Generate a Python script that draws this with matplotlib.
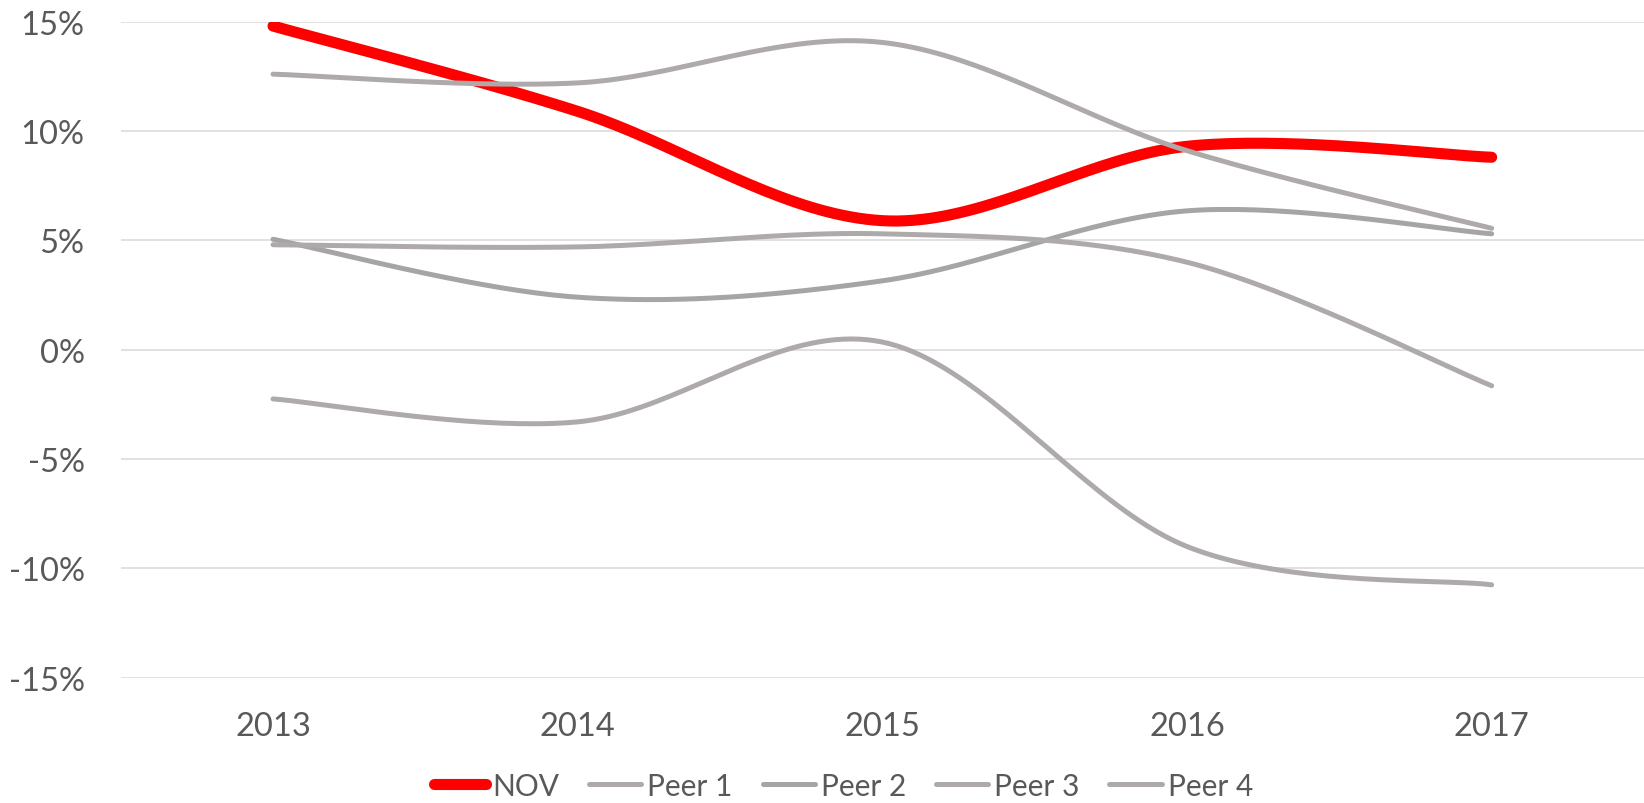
import numpy as np
import matplotlib
matplotlib.use("Agg")
import matplotlib.pyplot as plt
from matplotlib.ticker import FuncFormatter

years = ["2013", "2014", "2015", "2016", "2017"]
series_names = ["NOV", "Peer 1", "Peer 2", "Peer 3", "Peer 4"]
nov = [14.8, 10.9, 5.9, 9.3, 8.8]
peer1 = [12.6, 12.2, 14.05, 9.1, 5.55]
peer2 = [5.05, 2.4, 3.15, 6.35, 5.3]
peer3 = [4.8, 4.7, 5.3, 4.0, -1.65]
peer4 = [-2.25, -3.3, 0.35, -9.0, -10.75]
y_ticks = [-15, -10, -5, 0, 5, 10, 15]

colors = ["#FF0000", "#AEAAAA", "#A5A5A5", "#AEAAAA", "#AEAAAA"]
widths = [8.0, 3.6, 3.6, 3.6, 3.6]
all_series = [nov, peer1, peer2, peer3, peer4]

plt.rcParams['font.family'] = ['Lato', 'DejaVu Sans']


def excel_smooth(x, y, n=40):
    x = np.asarray(x, float)
    y = np.asarray(y, float)
    pts = np.column_stack([x, y])
    m = len(pts)
    out = []
    for i in range(m - 1):
        p0 = pts[i - 1] if i > 0 else pts[i]
        p1 = pts[i]
        p2 = pts[i + 1]
        p3 = pts[i + 2] if i + 2 < m else pts[i + 1]
        c1 = p1 + (p2 - p0) / 6.0
        c2 = p2 - (p3 - p1) / 6.0
        t = np.linspace(0, 1, n)[:, None]
        seg = ((1 - t) ** 3) * p1 + 3 * ((1 - t) ** 2) * t * c1 + 3 * (1 - t) * t ** 2 * c2 + t ** 3 * p2
        if i > 0:
            seg = seg[1:]
        out.append(seg)
    out = np.vstack(out)
    return out[:, 0], out[:, 1]


fig = plt.figure(figsize=(16.44, 8.04), dpi=100)
ax = fig.add_axes([0.0734, 0.1558, 0.9266, 0.8160])

x = np.arange(len(years))
handles = []
for k, (name, vals, c, lw) in enumerate(zip(series_names, all_series, colors, widths)):
    xs, ys = excel_smooth(x, vals)
    ln, = ax.plot(xs, ys, color=c, lw=lw, solid_capstyle='round',
                  solid_joinstyle='round', label=name, zorder=2 + k)
    handles.append(ln)

ax.set_xlim(-0.5, len(years) - 0.5)
ax.set_ylim(-15, 15)
ax.set_yticks(y_ticks)
ax.yaxis.set_major_formatter(FuncFormatter(lambda v, p: f"{int(round(v))}%"))
ax.set_xticks(x)
ax.set_xticklabels(years)
ax.grid(axis='y', color='#D9D9D9', lw=1.1, zorder=0)
ax.set_axisbelow(True)
for s in ax.spines.values():
    s.set_visible(False)
ax.tick_params(axis='both', length=0, labelsize=23.5, labelcolor='#595959')
ax.tick_params(axis='y', pad=26)
ax.tick_params(axis='x', pad=24)

leg = fig.legend(handles=handles, loc='center', bbox_to_anchor=(0.513, 0.0215),
                 ncol=5, frameon=False, fontsize=21.5, handlelength=1.75,
                 handletextpad=0.2, columnspacing=1.0, borderaxespad=0)
for t in leg.get_texts():
    t.set_color('#595959')

fig.savefig("out.png", dpi=100)
